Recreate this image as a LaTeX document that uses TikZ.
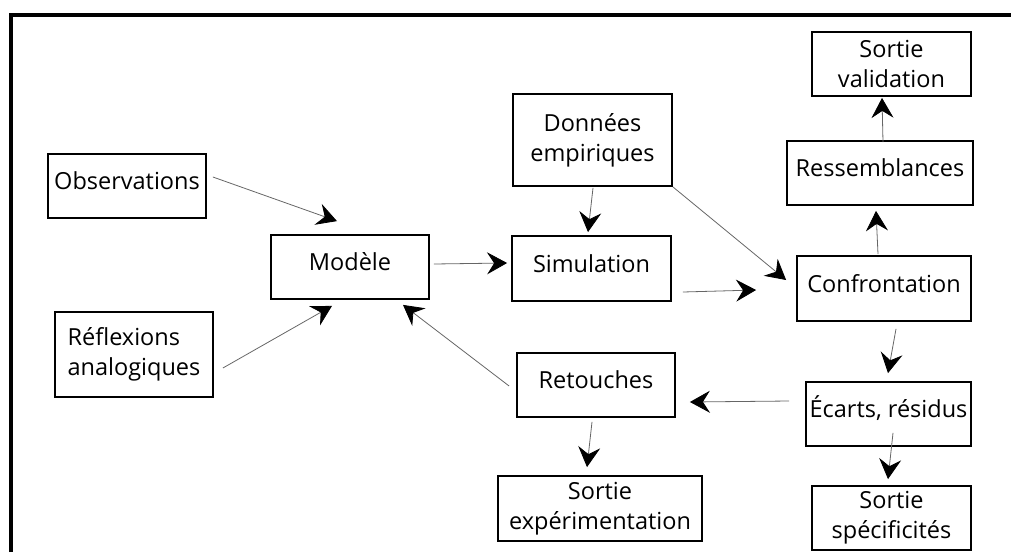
\documentclass[tikz,border=0pt]{standalone}
\usepackage{fontspec}
\setmainfont{Open Sans}
\usepackage{tikz}
\usetikzlibrary{arrows.meta,calc}

\tikzset{
  boite/.style={draw, line width=1.8pt, align=center, inner sep=0pt,
    font=\fontsize{23.5}{30}\selectfont},
  simple/.style={boite, text height=17pt, text depth=10pt},
  fleche/.style={draw=gray!80!black, line width=0.8pt,
    -{Stealth[length=20pt, width=22pt, inset=7pt, color=black]}}
}

\begin{document}
\begin{tikzpicture}[x=1pt, y=-1pt]
\useasboundingbox (0,0) rectangle (1011,552);
\draw [line width=4pt] (11,552) -- (11,15) -- (1011,15);

\node[simple, minimum width=158, minimum height=64] (obs) at (127,186) {Observations};
\node[boite, minimum width=158, minimum height=85, align=left] (refl) at (134,354.5) {Réflexions\\analogiques};
\node[simple, minimum width=158, minimum height=64] (mod) at (350,267) {Modèle};
\node[simple, minimum width=159, minimum height=65] (sim) at (591.5,268.5) {Simulation};
\node[boite, minimum width=159, minimum height=92] (don) at (592.5,140) {Données\\empiriques};
\node[simple, minimum width=174, minimum height=65] (conf) at (884,288.5) {Confrontation};
\node[simple, minimum width=186, minimum height=64] (ress) at (880,173) {Ressemblances};
\node[boite, minimum width=159, minimum height=64] (sval) at (891.5,64) {Sortie\\validation};
\node[simple, minimum width=165, minimum height=64] (ecart) at (888.5,414) {Écarts, résidus};
\node[boite, minimum width=159, minimum height=64] (sspec) at (891.5,518) {Sortie\\spécificités};
\node[simple, minimum width=158, minimum height=64] (ret) at (596,385) {Retouches};
\node[boite, minimum width=204, minimum height=65] (sexp) at (600,508.5) {Sortie\\expérimentation};

% entrees du modele
\draw[fleche] ($(obs.east)+(6,-9)$) -- ($(mod.north)+(-13,-13)$);
\draw[fleche] ($(refl.east)+(9,13.5)$) -- ($(mod.south)+(-18,6)$);
\draw[fleche] ($(mod.east)+(4,-3)$) -- ($(sim.west)+(-4,-5.5)$);
\draw[fleche] ($(don.south)+(0.5,1)$) -- ($(sim.north)+(-3.5,-3)$);
% confrontation
\draw[fleche] (don.south east) -- ($(conf.west)+(-10,-8.5)$);
\draw[fleche] ($(sim.east)+(11,23.5)$) -- ($(conf.west)+(-40,1.5)$);
\draw[fleche] ($(conf.north)+(-6,-1)$) -- ($(ress.south)+(-4,5)$);
\draw[fleche] ($(ress.north)+(3,2)$) -- ($(sval.south)+(-9.5,1)$);
\draw[fleche] ($(conf.south)+(12,7)$) -- ($(ecart.north)+(-0.5,-8)$);
\draw[fleche] ($(ecart.south)+(4.5,-14)$) -- ($(sspec.north)+(-3.5,-6)$);
% retour
\draw[fleche] ($(ecart.west)+(-16,-13)$) -- ($(ret.east)+(14,17)$);
\draw[fleche] ($(ret.west)+(-7,1)$) -- ($(mod.south)+(53,5)$);
\draw[fleche] ($(ret.south)+(-4,4)$) -- ($(sexp.north)+(-13,-8)$);
\end{tikzpicture}
\end{document}
